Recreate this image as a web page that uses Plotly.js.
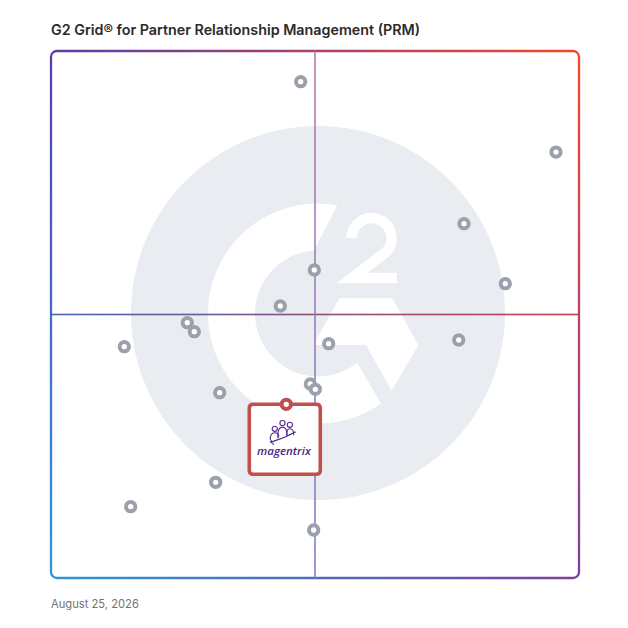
<!DOCTYPE html>
<html>
<head>
<meta charset="utf-8">
<script src="https://cdn.plot.ly/plotly-3.0.1.min.js"></script>
<style>
html,body{margin:0;padding:0;background:#fff;}
#chart{width:628px;height:628px;}
</style>
</head>
<body>
<div id="chart"></div>
<script>
// ---- data ----
var vendorX = [47.29, 95.64, 78.22, 49.87, 86.04, 43.43, 25.81, 27.14, 13.88, 52.59, 77.22, 31.95, 49.11, 50.06, 31.19, 15.09, 49.75];
var vendorY = [94.17, 80.83, 67.23, 58.44, 55.84, 51.61, 48.44, 46.74, 43.89, 44.46, 45.16, 35.16, 36.81, 35.81, 18.16, 13.53, 9.11];
var featuredName = ["magentrix"];
var featuredX = [44.56];
var featuredY = [32.96];
var axisMid = [50, 50];
var titleText = "G2 Grid® for Partner Relationship Management (PRM)";
var dateText = "August 25, 2026";

// ---- helpers ----
function hex2rgb(h){h=h.replace('#','');return [parseInt(h.substr(0,2),16),parseInt(h.substr(2,2),16),parseInt(h.substr(4,2),16)];}
function mix(a,b,t){var A=hex2rgb(a),B=hex2rgb(b);return 'rgb('+Math.round(A[0]+(B[0]-A[0])*t)+','+Math.round(A[1]+(B[1]-A[1])*t)+','+Math.round(A[2]+(B[2]-A[2])*t)+')';}

var shapes = [];
// quadrant lines with gradient (segmented)
var N = 40;
for (var i=0;i<N;i++){
  var t0=i/N, t1=(i+1)/N, tm=(t0+t1)/2;
  shapes.push({type:'line', xref:'x', yref:'y', x0:t0*100, x1:t1*100+0.05, y0:axisMid[1], y1:axisMid[1],
    line:{color:mix('#4562b0','#c93f4e',tm), width:1.6}, layer:'below'});
  shapes.push({type:'line', xref:'x', yref:'y', x0:axisMid[0], x1:axisMid[0], y0:100-t0*100, y1:100-t1*100-0.05,
    line:{color:mix('#b97aab','#7f82c6',tm), width:1.6}, layer:'below'});
}
// featured label box, anchored to the featured point
var fx = featuredX[0], fy = featuredY[0];
var purple = '#55298c';
function px(s){ s.xsizemode='pixel'; s.ysizemode='pixel'; s.xanchor=fx; s.yanchor=fy; s.xref='x'; s.yref='y'; return s; }
shapes.push(px({type:'path', path:'M -33,0 H 30 Q 34,0 34,-4 V -66 Q 34,-70 30,-70 H -33 Q -37,-70 -37,-66 V -4 Q -37,0 -33,0 Z',
  fillcolor:'#ffffff', line:{color:'#c0504e', width:3.6}, layer:'below'}));
// people icon
var heads = [[-11.5,-24.5],[-3.8,-18.8],[3.6,-20.5]];
heads.forEach(function(h){
  shapes.push(px({type:'circle', x0:h[0]-2.6, x1:h[0]+2.6, y0:h[1]-2.6, y1:h[1]+2.6, line:{color:purple,width:1.1}, fillcolor:'rgba(0,0,0,0)', layer:'below'}));
});
shapes.push(px({type:'path', path:'M -16,-36 Q -16.5,-28.5 -11.5,-28.5 Q -7.5,-28.5 -7.5,-33', line:{color:purple,width:1.1}, layer:'below'}));
shapes.push(px({type:'path', path:'M -8.5,-34 Q -9,-22.8 -3.8,-22.8 Q 1.2,-22.8 0.8,-32', line:{color:purple,width:1.1}, layer:'below'}));
shapes.push(px({type:'path', path:'M 0.5,-31 Q 0,-24.5 3.6,-24.5 Q 7.5,-24.5 7.5,-31', line:{color:purple,width:1.1}, layer:'below'}));
shapes.push(px({type:'path', path:'M -16,-38 Q -2,-34 9.5,-27.5 M -16,-38 Q -13,-38.5 -12.5,-40.5 M -16,-38 L -14.5,-36', line:{color:purple,width:1.1}, layer:'below'}));

// decorative background (G2 mark + gradient frame) as svg
var cx=318, cy=313.5, ro=110, ri=63;
function pt(r,dx,dy){var L=Math.sqrt(dx*dx+dy*dy);return (cx+r*dx/L).toFixed(1)+','+(cy+r*dy/L).toFixed(1);}
var oTop=pt(ro,18.7,-105.7), iTop=pt(ri,-3.7,-59.7), oBot=pt(ro,62,88.7), iBot=pt(ri,38.7,48.7);
var gPath='M '+oTop+' A '+ro+' '+ro+' 0 1 0 '+oBot+' L '+iBot+' A '+ri+' '+ri+' 0 1 1 '+iTop+' Z';
var svg = "<svg xmlns='http://www.w3.org/2000/svg' width='628' height='628' viewBox='0 0 628 628'>"+
 "<defs>"+
 "<linearGradient id='gt' gradientUnits='userSpaceOnUse' x1='51' y1='0' x2='579' y2='0'><stop offset='0' stop-color='#5a3ea9'/><stop offset='1' stop-color='#f6462a'/></linearGradient>"+
 "<linearGradient id='gb' gradientUnits='userSpaceOnUse' x1='51' y1='0' x2='579' y2='0'><stop offset='0' stop-color='#2c97d6'/><stop offset='1' stop-color='#7c3f9f'/></linearGradient>"+
 "<linearGradient id='gl' gradientUnits='userSpaceOnUse' x1='0' y1='51' x2='0' y2='578'><stop offset='0' stop-color='#5a3ea9'/><stop offset='1' stop-color='#2c97d6'/></linearGradient>"+
 "<linearGradient id='gr' gradientUnits='userSpaceOnUse' x1='0' y1='51' x2='0' y2='578'><stop offset='0' stop-color='#f6462a'/><stop offset='1' stop-color='#7c3f9f'/></linearGradient>"+
 "</defs>"+
 "<circle cx='318' cy='313' r='187' fill='#e9ecf0'/>"+
 "<path d='"+gPath+"' fill='#ffffff'/>"+
 "<path d='M 313.3,345 L 339.3,298.3 L 392.3,298.3 L 418.3,345 L 391.7,390.7 L 366,345 Z' fill='#ffffff'/>"+
 "<path d='M 351.5,238 A 20,20 0 1,1 386,252 L 352,278 H 397' fill='none' stroke='#ffffff' stroke-width='10.5' stroke-linejoin='miter'/>"+
 "<g fill='none' stroke-width='2.3'>"+
 "<path d='M 51,57 A 6,6 0 0 1 57,51 H 573 A 6,6 0 0 1 579,57' stroke='url(#gt)'/>"+
 "<path d='M 51,572 A 6,6 0 0 0 57,578 H 573 A 6,6 0 0 0 579,572' stroke='url(#gb)'/>"+
 "<path d='M 51,57 V 572' stroke='url(#gl)'/>"+
 "<path d='M 579,57 V 572' stroke='url(#gr)'/>"+
 "</g></svg>";
var svgUri = 'data:image/svg+xml;charset=utf-8,' + encodeURIComponent(svg);

var W=628,H=628,ml=51,mr=49,mt=51,mb=50;
var pw=W-ml-mr, ph=H-mt-mb;

var traces = [
  {type:'scatter', mode:'markers', x:vendorX, y:vendorY, hoverinfo:'skip',
   marker:{symbol:'circle', size:9.3, color:'#ffffff', line:{color:'#9ba0aa', width:4}}},
  {type:'scatter', mode:'markers', x:featuredX, y:featuredY, text:featuredName, hoverinfo:'text',
   marker:{symbol:'circle', size:9.3, color:'#ffffff', line:{color:'#c0504e', width:4}}}
];

var layout = {
  width:W, height:H,
  margin:{l:ml, r:mr, t:mt, b:mb, pad:0},
  paper_bgcolor:'#ffffff', plot_bgcolor:'rgba(0,0,0,0)',
  showlegend:false,
  xaxis:{range:[0,100], visible:false, showgrid:false, zeroline:false, fixedrange:true},
  yaxis:{range:[0,100], visible:false, showgrid:false, zeroline:false, fixedrange:true},
  title:{text:titleText, x:ml/W, xanchor:'left', xref:'container', y:1-29.5/H, yanchor:'middle',
    font:{family:'Inter, "Open Sans", sans-serif', size:14.3, color:'#2b2b2b', weight:600}},
  annotations:[
    {text:dateText, xref:'paper', yref:'paper', x:0, xshift:-2, y:-(604-578)/ph, xanchor:'left', yanchor:'middle', showarrow:false,
     font:{family:'Inter, "Open Sans", sans-serif', size:11.2, color:'#727272'}},
    {text:featuredName[0], xref:'x', yref:'y', x:fx, y:fy, xshift:-2, yshift:-46, showarrow:false, xanchor:'center', yanchor:'middle',
     font:{family:'"Open Sans", sans-serif', size:11.5, color:'#4b2484', style:'italic', weight:600}}
  ],
  shapes:shapes,
  images:[{source:svgUri, xref:'paper', yref:'paper', x:-ml/pw, y:1+mt/ph, sizex:W/pw, sizey:H/ph,
    xanchor:'left', yanchor:'top', sizing:'stretch', layer:'below'}]
};

Plotly.newPlot('chart', traces, layout, {displayModeBar:false, staticPlot:true});
</script>
</body>
</html>
